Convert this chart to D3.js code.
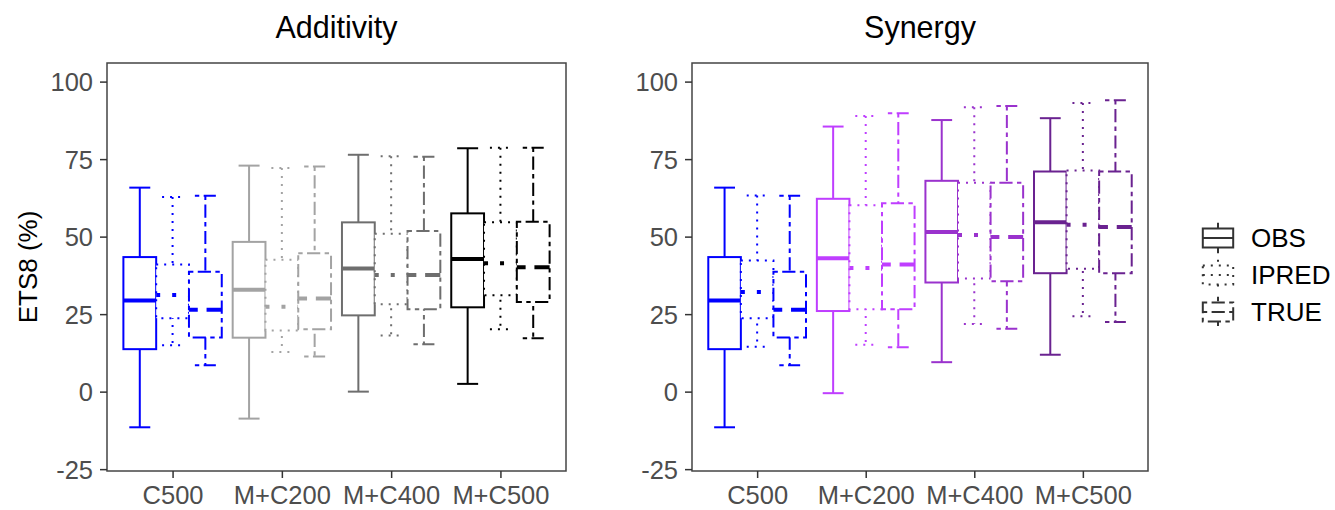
<!DOCTYPE html>
<html>
<head>
<meta charset="utf-8">
<script src="https://cdn.jsdelivr.net/npm/d3@7"></script>
<style>
  body { margin: 0; background: #fff; }
  svg { display: block; font-family: 'Liberation Sans', Arial, sans-serif; }
</style>
</head>
<body>
<script>
const categories = ['C500', 'M+C200', 'M+C400', 'M+C500'];
const methods = ['OBS', 'IPRED', 'TRUE'];
const yTicks = [-25, 0, 25, 50, 75, 100];

// [lower whisker, Q1, median, Q3, upper whisker] per category
const addOBS   = [[-11.5, 13.7, 29.4, 43.4, 65.8], [-8.7, 17.4, 32.9, 48.3, 72.9], [0.0, 24.6, 39.7, 54.6, 76.4], [2.5, 27.2, 42.8, 57.5, 78.5]];
const addIPRED = [[15.0, 23.7, 31.2, 41.0, 62.8], [12.8, 19.7, 27.4, 42.5, 72.1], [18.1, 28.2, 37.6, 50.9, 75.9], [20.1, 31.1, 41.4, 54.6, 78.7]];
const addTRUE  = [[8.5, 17.5, 26.4, 38.7, 63.2], [11.3, 20.1, 30.0, 44.6, 72.6], [15.3, 26.6, 37.6, 51.8, 75.8], [17.2, 28.9, 40.1, 54.8, 78.7]];

const synOBS   = [[-11.5, 13.7, 29.4, 43.4, 65.8], [-0.5, 26.0, 43.0, 62.2, 85.5], [9.5, 35.2, 51.5, 68.0, 87.6], [11.9, 38.2, 54.6, 71.0, 88.2]];
const synIPRED = [[14.5, 23.7, 32.1, 42.3, 63.3], [15.1, 26.6, 39.9, 60.1, 88.9], [21.8, 36.5, 50.5, 67.4, 91.7], [24.3, 39.6, 53.8, 71.3, 93.1]];
const synTRUE  = [[8.5, 17.5, 26.4, 38.7, 63.2], [14.3, 26.6, 41.0, 60.8, 89.8], [20.3, 35.6, 49.9, 67.4, 92.1], [22.5, 38.2, 53.1, 71.0, 94.0]];

const addColors = ['#0000ff', '#a3a3a3', '#6e6e6e', '#000000'];
const synColors = ['#0000ff', '#bf3eff', '#9a32cd', '#6a2290'];

const W = 1335, H = 510;
const LW = 2;
const dashes = {OBS: null, IPRED: [1, 3], TRUE: [2.2, 2.2, 6.6, 2.2]};
const dashFor = (m, w) => dashes[m] ? dashes[m].map(v => v * w).join(',') : null;

const svg = d3.select('body').append('svg')
  .attr('width', W)
  .attr('height', H);

const y = d3.scaleLinear().domain([-25.6, 106]).range([471, 63]);

const panels = [
  {title: 'Additivity', left: 107, right: 566, colors: addColors, data: {OBS: addOBS, IPRED: addIPRED, TRUE: addTRUE}},
  {title: 'Synergy', left: 692, right: 1148, colors: synColors, data: {OBS: synOBS, IPRED: synIPRED, TRUE: synTRUE}}
];

panels.forEach(p => {
  const x = d3.scalePoint().domain(categories).range([p.left, p.right]).padding(0.6);
  const step = x.step();
  const inner = d3.scaleBand().domain(methods).range([-0.45 * step, 0.45 * step]);
  const bw = inner.bandwidth();

  const g = svg.append('g');

  // title
  svg.append('text')
    .attr('x', (p.left + p.right) / 2)
    .attr('y', 38)
    .attr('text-anchor', 'middle')
    .style('font-size', '30.5px')
    .attr('fill', '#000')
    .text(p.title);

  // panel background
  g.append('rect')
    .attr('x', p.left).attr('y', 63)
    .attr('width', p.right - p.left).attr('height', 471 - 63)
    .attr('fill', '#fff');

  const rows = [];
  categories.forEach((c, ci) => {
    methods.forEach(m => {
      const s = p.data[m][ci];
      rows.push({c, m, s, color: p.colors[ci], cx: x(c) + inner(m) + bw / 2});
    });
  });

  // error bars (whiskers + caps)
  const eb = g.selectAll('.eb').data(rows).enter().append('g').attr('class', 'eb');
  eb.append('line')
    .attr('x1', d => d.cx).attr('x2', d => d.cx)
    .attr('y1', d => y(d.s[4])).attr('y2', d => y(d.s[0]))
    .attr('stroke', d => d.color).attr('stroke-width', LW)
    .attr('stroke-dasharray', d => dashFor(d.m, LW));
  [0, 4].forEach(k => {
    eb.append('line')
      .attr('x1', d => d.cx - bw * 0.32).attr('x2', d => d.cx + bw * 0.32)
      .attr('y1', d => y(d.s[k])).attr('y2', d => y(d.s[k]))
      .attr('stroke', d => d.color).attr('stroke-width', LW)
      .attr('stroke-dasharray', d => dashFor(d.m, LW));
  });

  // boxes
  const bx = g.selectAll('.bx').data(rows).enter().append('g').attr('class', 'bx');
  bx.append('rect')
    .attr('x', d => d.cx - bw / 2)
    .attr('width', bw)
    .attr('y', d => y(d.s[3]))
    .attr('height', d => y(d.s[1]) - y(d.s[3]))
    .attr('fill', '#fff')
    .attr('stroke', d => d.color).attr('stroke-width', LW)
    .attr('stroke-dasharray', d => dashFor(d.m, LW));
  bx.append('line')
    .attr('x1', d => d.cx - bw / 2).attr('x2', d => d.cx + bw / 2)
    .attr('y1', d => y(d.s[2])).attr('y2', d => y(d.s[2]))
    .attr('stroke', d => d.color).attr('stroke-width', LW * 2)
    .attr('stroke-dasharray', d => dashFor(d.m, LW * 2));

  // panel border
  g.append('rect')
    .attr('x', p.left).attr('y', 63)
    .attr('width', p.right - p.left).attr('height', 471 - 63)
    .attr('fill', 'none')
    .attr('stroke', '#444').attr('stroke-width', 1.5);

  // axes
  const ya = svg.append('g')
    .attr('transform', `translate(${p.left},0)`)
    .call(d3.axisLeft(y).tickValues(yTicks).tickFormat(d => String(d)).tickSize(7).tickPadding(7));
  const xa = svg.append('g')
    .attr('transform', `translate(0,471)`)
    .call(d3.axisBottom(x).tickSize(7).tickPadding(4));
  [ya, xa].forEach(a => {
    a.select('.domain').remove();
    a.selectAll('.tick line').attr('stroke', '#333').attr('stroke-width', 1.5);
    a.selectAll('.tick text')
      .attr('fill', '#4d4d4d')
      .style('font-size', '25.5px')
      .style('font-family', "'Liberation Sans', Arial, sans-serif");
  });
  ya.selectAll('.tick text').attr('dy', '0.35em');
  xa.selectAll('.tick text').attr('dy', '0.88em');
});

// y axis title
svg.append('text')
  .attr('transform', 'translate(37,267) rotate(-90)')
  .attr('text-anchor', 'middle')
  .style('font-size', '26px')
  .attr('fill', '#000')
  .text('ETS8 (%)');

// legend
const key = 38;
const legend = svg.append('g').attr('transform', 'translate(1199,219)');
const item = legend.selectAll('g').data(methods).enter().append('g')
  .attr('transform', (d, i) => `translate(0,${i * 37})`);
item.each(function(m) {
  const k = d3.select(this);
  const st = sel => sel.attr('stroke', '#333').attr('stroke-width', LW).attr('fill', 'none')
    .attr('stroke-dasharray', dashFor(m, LW));
  st(k.append('line').attr('x1', key / 2).attr('x2', key / 2).attr('y1', key * 0.1).attr('y2', key * 0.25));
  st(k.append('line').attr('x1', key / 2).attr('x2', key / 2).attr('y1', key * 0.75).attr('y2', key * 0.9));
  st(k.append('rect').attr('x', key * 0.1).attr('y', key * 0.25).attr('width', key * 0.8).attr('height', key * 0.5));
  st(k.append('line').attr('x1', key * 0.1).attr('x2', key * 0.9).attr('y1', key * 0.5).attr('y2', key * 0.5));
});
item.append('text')
  .attr('x', 52)
  .attr('y', key / 2)
  .attr('dy', '0.36em')
  .style('font-size', '26px')
  .attr('fill', '#000')
  .text(d => d);
</script>
</body>
</html>
